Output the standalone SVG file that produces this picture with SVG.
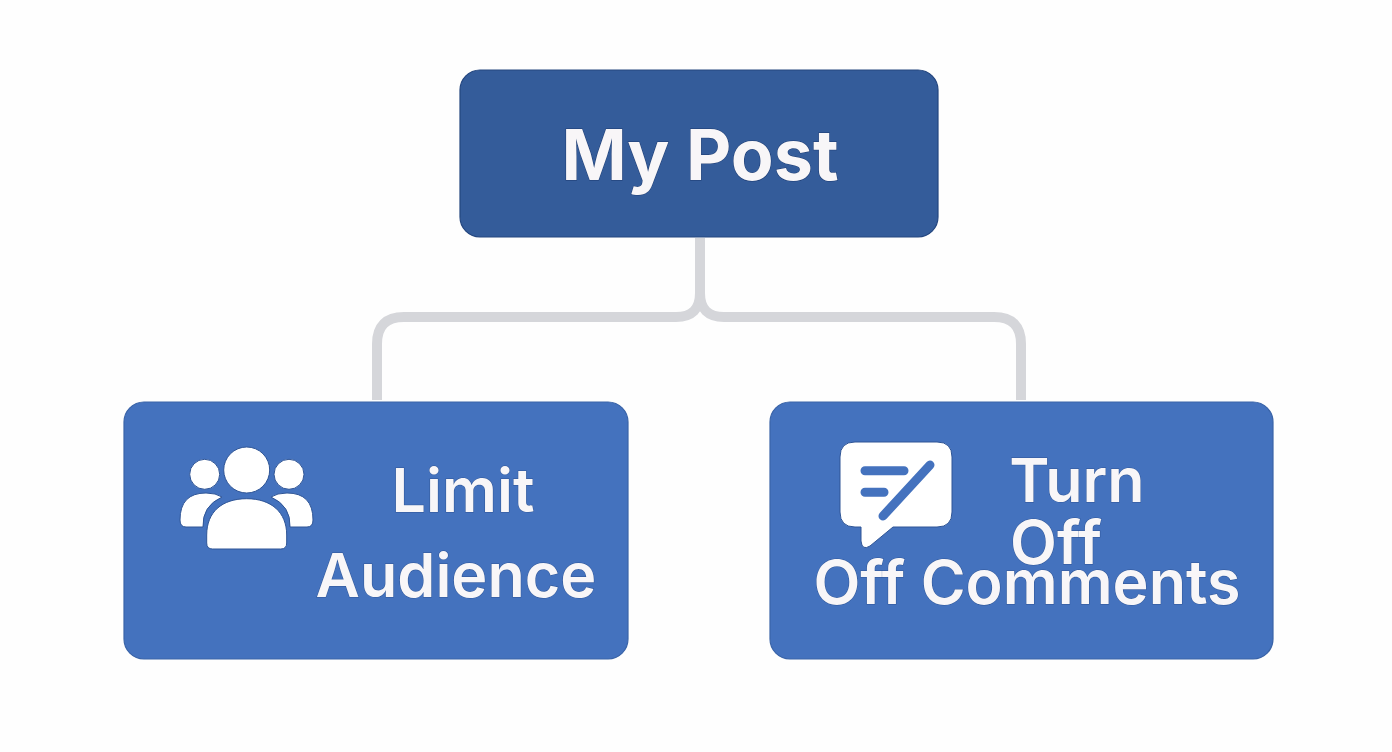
<svg xmlns="http://www.w3.org/2000/svg" width="1392" height="752" viewBox="0 0 1392 752">
<style>
.box{stroke-width:1.2}
.t{font-family:Inter,"Liberation Sans",sans-serif;fill:#f8f6f8;text-anchor:middle;stroke-width:1;paint-order:stroke fill}
.root{font-size:70px;font-weight:700;stroke:#1c3a70}
.leaf{font-size:61px;font-weight:600;stroke:#2f5596}
.conn{fill:none;stroke:#d5d6da;stroke-width:10}
.ic{fill:#fff;stroke:#2f5596;stroke-width:1}
.cut{fill:none;stroke:#4472be;stroke-width:9;stroke-linecap:round}
</style>
<rect width="1392" height="752" fill="#fefefe"/>
<g id="connectors">
<path class="conn" d="M700 238V293Q700 317 676 317H404Q377 317 377 344V400"/>
<path class="conn" d="M700 238V293Q700 317 724 317H994Q1021 317 1021 344V400"/>
</g>
<g id="node-my-post">
<rect class="box" x="460" y="70" width="478" height="167" rx="20" fill="#345c9a" stroke="#24467f"/>
<text class="t root" x="700" y="180">My Post</text>
</g>
<g id="node-limit-audience">
<rect class="box" x="124" y="402" width="504" height="257" rx="20" fill="#4472be" stroke="#3a64a8"/>
<g id="icon-audience">
<path class="ic" d="M180 520Q180 493 206 493Q216 493 222 497Q202 506 203 527H186Q180 527 180 520Z"/>
<path class="ic" d="M313 520Q313 493 287 493Q277 493 271 497Q291 506 290 527H307Q313 527 313 520Z"/>
<circle class="ic" cx="204.700" cy="474.300" r="15"/>
<circle class="ic" cx="289" cy="474.300" r="15"/>
<circle class="ic" cx="246.700" cy="470" r="23"/>
<path class="ic" d="M206.700 535C206.700 512 222 498.700 246.700 498.700C271 498.700 286.700 512 286.700 535V543Q286.700 549 280.700 549H212.700Q206.700 549 206.700 543Z"/>
</g>
<text class="t leaf" x="463" y="512">Limit</text>
<text class="t leaf" x="456" y="597">Audience</text>
</g>
<g id="node-turn-off-comments">
<rect class="box" x="770" y="402" width="503" height="257" rx="20" fill="#4472be" stroke="#3a64a8"/>
<g id="icon-comments">
<path class="ic" d="M855 442H937Q952 442 952 457V512Q952 527 937 527H893L870 546Q862 551 861 541V527H855Q840 527 840 512V457Q840 442 855 442Z"/>
<path class="cut" d="M865 470.700H904M865 492.300H884M930 465L883 516"/>
</g>
<text class="t leaf" x="1077" y="502">Turn</text>
<text class="t leaf" x="1056" y="564">Off</text>
<text class="t leaf" x="1027" y="604">Off Comments</text>
</g>
</svg>
